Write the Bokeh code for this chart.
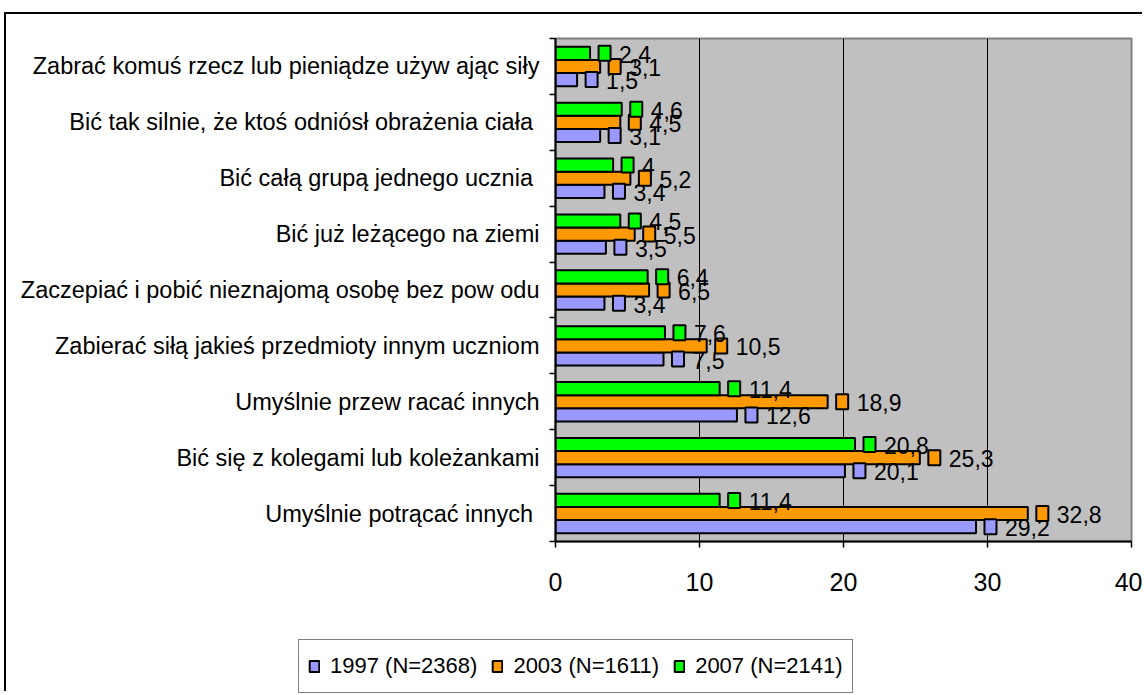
from bokeh.plotting import figure
from bokeh.layouts import column
from bokeh.models import FixedTicker, Legend, LegendItem, ColumnDataSource
from bokeh.embed import file_html
from bokeh.resources import INLINE
from bokeh.core.properties import value

# categories, top to bottom as displayed
categories = [
    "Zabrać komuś rzecz lub pieniądze używ ając siły",
    "Bić tak silnie, że ktoś odniósł obrażenia ciała ",
    "Bić całą grupą jednego ucznia ",
    "Bić już leżącego na ziemi",
    "Zaczepiać i pobić nieznajomą osobę bez pow odu",
    "Zabierać siłą jakieś przedmioty innym uczniom",
    "Umyślnie przew racać innych",
    "Bić się z kolegami lub koleżankami",
    "Umyślnie potrącać innych ",
]
v1997 = [1.5, 3.1, 3.4, 3.5, 3.4, 7.5, 12.6, 20.1, 29.2]
v2003 = [3.1, 4.5, 5.2, 5.5, 6.5, 10.5, 18.9, 25.3, 32.8]
v2007 = [2.4, 4.6, 4.0, 4.5, 6.4, 7.6, 11.4, 20.8, 11.4]
series_names = ["1997 (N=2368)", "2003 (N=1611)", "2007 (N=2141)"]
x_ticks = [0, 10, 20, 30, 40]

FONT = value("Liberation Sans")
colors = ["#9999FF", "#FF9900", "#00FF00"]
offsets = [-0.235, 0.0, 0.235]
bar_h = 0.235

W, H = 1136, 677
ML, MR, MT, MB = 549, 11, 24, 150
frame_w = W - ML - MR
XMAX = 40
dpp = XMAX / frame_w  # data units per pixel

n = len(categories)
centers = [n - 0.5 - i for i in range(n)]

p = figure(width=W, height=H, x_range=(0, XMAX), y_range=(0, n),
           output_backend="svg", toolbar_location=None,
           min_border_left=ML, min_border_right=MR, min_border_top=MT, min_border_bottom=MB)

p.background_fill_color = "#C0C0C0"
p.border_fill_color = "white"
p.outline_line_color = "#808080"
p.outline_line_width = 2

def fmt(v):
    return f"{v:g}".replace(".", ",")

all_vals = [v1997, v2003, v2007]
sources = []
for vals, col, off in zip(all_vals, colors, offsets):
    ys = [c + off for c in centers]
    src = ColumnDataSource(dict(
        y=ys, right=vals,
        mx=[v + 14.5 * dpp for v in vals],
        lab=[fmt(v) for v in vals],
    ))
    sources.append((src, col))
    p.hbar(y="y", right="right", left=0, height=bar_h, source=src,
           fill_color=col, line_color="black", line_width=2)

for src, col in sources:
    p.rect(x="mx", y="y", width=12, height=15, width_units="screen", height_units="screen",
           source=src, fill_color=col, line_color="black", line_width=2)
    p.text(x="right", y="y", text="lab", source=src, x_offset=29, y_offset=1,
           text_baseline="middle", text_align="left",
           text_font=FONT, text_font_size="23px", text_color="black")

# x axis
p.xaxis.ticker = FixedTicker(ticks=x_ticks)
p.xaxis.axis_line_color = "black"
p.xaxis.axis_line_width = 2
p.xaxis.major_tick_out = 6
p.xaxis.major_tick_in = 0
p.xaxis.major_tick_line_width = 1.5
p.xaxis.minor_tick_line_color = None
p.xaxis.major_label_text_font = "Liberation Sans"
p.xaxis.major_label_text_font_size = "25px"
p.xaxis.major_label_text_color = "black"
p.xaxis.major_label_standoff = 25

# y axis: labels at centers, ticks at band boundaries
p.yaxis.ticker = FixedTicker(ticks=centers, minor_ticks=list(range(n + 1)))
p.yaxis.major_label_overrides = {c: lab for c, lab in zip(centers, categories)}
p.yaxis.axis_line_color = "black"
p.yaxis.axis_line_width = 2
p.yaxis.major_tick_out = 0
p.yaxis.major_tick_in = 0
p.yaxis.major_tick_line_color = None
p.yaxis.minor_tick_out = 6
p.yaxis.minor_tick_in = 0
p.yaxis.minor_tick_line_color = "black"
p.yaxis.minor_tick_line_width = 1.5
p.yaxis.major_label_text_font = "Liberation Sans"
p.yaxis.major_label_text_font_size = "23.5px"
p.yaxis.major_label_text_color = "black"
p.yaxis.major_label_standoff = 10

p.xgrid.ticker = FixedTicker(ticks=[10, 20, 30])
p.xgrid.grid_line_color = "black"
p.xgrid.grid_line_width = 1
p.ygrid.grid_line_color = None

# legend in its own small figure, placed over the bottom-left area
lg = figure(width=566, height=58, x_range=(0, 1), y_range=(0, 1),
            output_backend="svg", toolbar_location=None,
            x_axis_type=None, y_axis_type=None, min_border=0)
lg.outline_line_color = None
lg.background_fill_color = None
lg.border_fill_color = None
lg.xgrid.grid_line_color = None
lg.ygrid.grid_line_color = None
lg_renderers = []
for col in colors:
    # a key-only bar placed outside the legend figure's visible range
    key_src = ColumnDataSource(dict(y=[-10], right=[1]))
    lg_renderers.append(lg.hbar(y="y", right="right", left=0, height=0.5, source=key_src,
                                fill_color=col, line_color="black", line_width=2))
legend = Legend(
    items=[LegendItem(label=nm, renderers=[r]) for nm, r in zip(series_names, lg_renderers)],
    orientation="horizontal", location="top_left",
    glyph_width=12, glyph_height=14, label_standoff=10, spacing=14,
    padding=9, margin=1, label_height=34,
    label_text_font="Liberation Sans", label_text_font_size="22px",
    label_text_color="black",
    border_line_color="black", border_line_width=1,
    background_fill_color="white", background_fill_alpha=1,
)
lg.add_layout(legend, "center")

lg_left = 291
try:
    p.frame_align = False
    lg.frame_align = False
except Exception:
    lg_left = 291 - ML
lg.styles = {"position": "absolute", "top": "624px", "left": f"{lg_left}px"}

root = column(p, lg, spacing=0)
root.styles = {"border-top": "2px solid black", "border-left": "2px solid black",
               "position": "relative", "top": "12px", "left": "4px"}

open("out.html", "w").write(file_html(root, INLINE))
